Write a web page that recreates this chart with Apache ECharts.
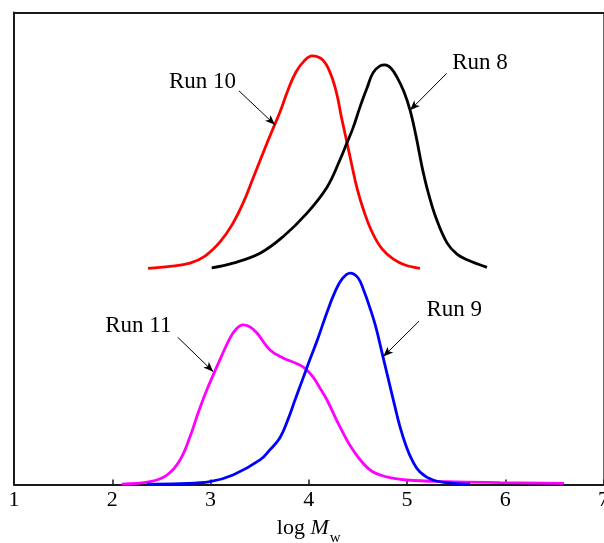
<!DOCTYPE html>
<html>
<head>
<meta charset="utf-8">
<script src="https://cdn.jsdelivr.net/npm/echarts@6/dist/echarts.min.js"></script>
<style>
  html, body { margin: 0; padding: 0; background: #fff; overflow: hidden; }
  #chart { width: 604px; height: 543px; }
</style>
</head>
<body>
<div id="chart"></div>
<script>
// Molecular weight distributions, w (arbitrary units) versus log Mw
const xTicks = [1, 2, 3, 4, 5, 6, 7];

const run10_logM = [2.364, 2.588, 2.791, 2.944, 3.097, 3.219, 3.331, 3.433, 3.534, 3.626, 3.707, 3.789, 3.870, 3.952, 4.033, 4.145, 4.226, 4.288, 4.328, 4.379, 4.430, 4.491, 4.562, 4.644, 4.746, 4.858, 4.980, 5.132];
const run10_w    = [45.8, 46.2, 46.9, 48.4, 51.4, 55.0, 59.6, 64.9, 70.2, 74.9, 78.9, 83.6, 87.4, 89.7, 90.8, 89.9, 86.8, 82.5, 78.3, 73.4, 68.5, 62.8, 57.9, 53.5, 49.9, 47.8, 46.5, 45.8];

const run8_logM = [3.012, 3.229, 3.504, 3.738, 3.982, 4.186, 4.318, 4.389, 4.450, 4.522, 4.593, 4.654, 4.725, 4.776, 4.837, 4.898, 4.969, 5.031, 5.092, 5.153, 5.214, 5.295, 5.407, 5.509, 5.611, 5.814];
const run8_w    = [45.9, 46.9, 49.0, 52.5, 57.5, 63.0, 68.8, 72.4, 75.5, 80.0, 84.0, 87.2, 88.7, 88.9, 88.2, 86.3, 83.2, 79.3, 73.8, 67.3, 62.0, 56.5, 51.2, 48.8, 47.6, 46.0];

const run9_logM = [2.351, 2.690, 2.995, 3.229, 3.504, 3.606, 3.707, 3.789, 3.860, 3.931, 4.003, 4.094, 4.186, 4.267, 4.338, 4.420, 4.501, 4.562, 4.623, 4.685, 4.746, 4.807, 4.868, 4.929, 4.990, 5.051, 5.132, 5.265, 5.468, 5.641];
const run9_w    = [0.1, 0.2, 0.6, 2.0, 5.2, 7.4, 9.9, 13.8, 17.9, 21.9, 26.0, 31.0, 36.5, 40.8, 43.5, 44.8, 43.8, 41.0, 37.4, 33.2, 27.9, 22.6, 17.3, 12.2, 8.2, 5.2, 2.65, 0.95, 0.25, 0.1];

const run11_logM = [2.096, 2.384, 2.557, 2.690, 2.791, 2.873, 2.954, 3.036, 3.117, 3.198, 3.260, 3.331, 3.402, 3.473, 3.606, 3.738, 3.880, 3.962, 4.043, 4.115, 4.186, 4.318, 4.450, 4.623, 4.796, 5.000, 5.407, 5.947, 6.598];
const run11_w    = [0.1, 0.6, 2.0, 5.2, 10.1, 15.1, 19.6, 23.6, 27.4, 31.0, 32.9, 33.8, 33.4, 32.1, 28.5, 26.8, 25.6, 24.6, 22.8, 20.4, 17.9, 12.2, 7.3, 3.1, 1.6, 0.95, 0.6, 0.4, 0.25];

// Callout labels: text, label centre, arrow tail, arrow head (data coordinates)
const calloutText = ['Run 10', 'Run 8', 'Run 11', 'Run 9'];
const calloutAt   = [[2.919, 85.3], [5.743, 89.3], [2.265, 33.6], [5.481, 37.0]];
const arrowFrom   = [[3.290, 83.4], [5.404, 87.1], [2.666, 31.2], [5.122, 34.6]];
const arrowTo     = [[3.656, 76.2], [5.031, 79.3], [3.028, 23.9], [4.759, 27.1]];

const serif = "'Liberation Serif', 'Times New Roman', 'DejaVu Serif', serif";

function zip(xs, ys) { return xs.map((x, i) => [x, ys[i]]); }

function curve(name, xs, ys, color, idx) {
  return {
    name: name,
    type: 'line',
    data: zip(xs, ys),
    smooth: 0.4,
    symbol: 'none',
    lineStyle: { color: color, width: 2.8 },
    silent: true,
    z: 3,
    markLine: {
      silent: true,
      symbol: ['none', 'arrow'],
      symbolSize: [6, 10],
      lineStyle: { color: '#000', width: 1, type: 'solid' },
      label: { show: false },
      data: [[{ coord: arrowFrom[idx] }, { coord: arrowTo[idx] }]]
    }
  };
}

const chart = echarts.init(document.getElementById('chart'), null, { renderer: 'canvas' });

const axisDark = { show: true, onZero: false, lineStyle: { color: '#1a1a1a', width: 2 } };

chart.setOption({
  animation: false,
  backgroundColor: '#fff',
  grid: { left: 14, right: 0.5, top: 12.5, bottom: 58.5, containLabel: false, outerBoundsMode: 'none' },
  xAxis: [
    {
      type: 'value',
      min: xTicks[0],
      max: xTicks[xTicks.length - 1],
      interval: 1,
      position: 'bottom',
      axisLine: axisDark,
      axisTick: { show: true, inside: true, length: 5, lineStyle: { color: '#1a1a1a', width: 1.5 } },
      axisLabel: {
        show: true, margin: 5, color: '#000',
        fontFamily: serif, fontSize: 22,
        formatter: v => String(v)
      },
      splitLine: { show: false },
      name: '{a|log }{b|M}{c|w}',
      nameLocation: 'middle',
      nameGap: 29,
      nameTextStyle: {
        rich: {
          a: { fontFamily: serif, fontSize: 22, color: '#000', lineHeight: 26, verticalAlign: 'bottom' },
          b: { fontFamily: serif, fontSize: 22, fontStyle: 'italic', color: '#000', lineHeight: 26, verticalAlign: 'bottom' },
          c: { fontFamily: serif, fontSize: 15, color: '#000', lineHeight: 26, verticalAlign: 'bottom', padding: [0, 0, -6, 1] }
        }
      }
    },
    {
      type: 'value',
      min: xTicks[0],
      max: xTicks[xTicks.length - 1],
      position: 'top',
      axisLine: axisDark,
      axisTick: { show: false },
      axisLabel: { show: false },
      splitLine: { show: false }
    }
  ],
  yAxis: [
    {
      type: 'value', min: 0, max: 100, position: 'left',
      axisLine: axisDark,
      axisTick: { show: false }, axisLabel: { show: false }, splitLine: { show: false }
    },
    {
      type: 'value', min: 0, max: 100, position: 'right',
      axisLine: { show: true, onZero: false, lineStyle: { color: '#666', width: 1 } },
      axisTick: { show: false }, axisLabel: { show: false }, splitLine: { show: false }
    }
  ],
  series: [
    curve('Run 10', run10_logM, run10_w, '#ff0000', 0),
    curve('Run 8', run8_logM, run8_w, '#000000', 1),
    curve('Run 11', run11_logM, run11_w, '#ff00ff', 2),
    curve('Run 9', run9_logM, run9_w, '#0000ff', 3)
  ]
});

// Callout texts placed at their data positions
chart.setOption({
  graphic: calloutText.map((t, i) => {
    const p = chart.convertToPixel({ xAxisIndex: 0, yAxisIndex: 0 }, calloutAt[i]);
    return {
      type: 'text',
      x: p[0], y: p[1],
      silent: true,
      style: {
        text: t, fill: '#000',
        font: '23px ' + serif,
        align: 'center', verticalAlign: 'middle'
      }
    };
  })
});
</script>
</body>
</html>
